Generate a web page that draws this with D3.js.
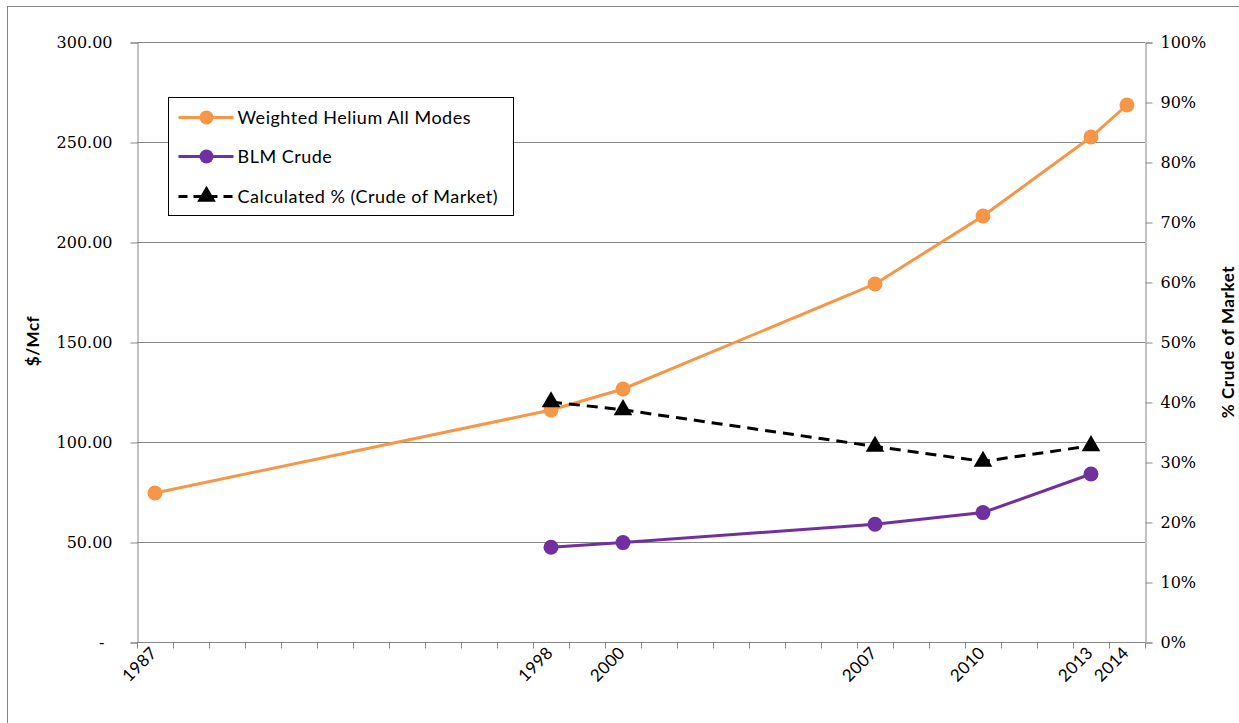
<!DOCTYPE HTML>
<html>
<head>
  <title>Helium price chart</title>
  <meta http-equiv="Content-Type" content="text/html; charset=UTF-8" />
  <script src="https://d3js.org/d3.v7.min.js"></script>
  <style>
    body { margin: 0; background: #fff; }
    svg { display: block; background-color: #fff; }
    .num { font-family: "DejaVu Serif", serif; font-size: 16px; fill: #000; }
    .lbl { font-family: Lato, "Open Sans", sans-serif; fill: #000; }
  </style>
</head>
<body>
<svg width="1239" height="723"></svg>
<script>
  // values
  var years = [1987, 1998, 2000, 2007, 2010, 2013, 2014];
  var heliumAll = [74.5, 116, 126.5, 179, 213, 252.5, 268.5];
  var blmYears = [1998, 2000, 2007, 2010, 2013];
  var blmCrude = [47.4, 49.7, 58.9, 64.7, 84];
  var crudePct = [40.0, 38.7, 32.6, 30.1, 32.7];
  var leftTicks = [0, 50, 100, 150, 200, 250, 300];
  var rightTicks = [0, 10, 20, 30, 40, 50, 60, 70, 80, 90, 100];
  var seriesNames = ["Weighted Helium All Modes", "BLM Crude", "Calculated % (Crude of Market)"];

  var orange = "#f79646", purple = "#7030a0", gray = "#868686";

  var svg = d3.select("svg");

  // chart frame (cut off on the right and bottom)
  svg.append("rect")
    .attr("x", 7.5).attr("y", 6.5)
    .attr("width", 1300).attr("height", 800)
    .attr("fill", "none").attr("stroke", gray);

  var x = d3.scaleLinear().domain([1986.5, 2014.5]).range([137, 1145]);
  var y = d3.scaleLinear().domain([0, 300]).range([642, 42]);
  var yPct = d3.scaleLinear().domain([0, 100]).range([642, 42]);

  // gridlines
  svg.append("g").selectAll("line")
    .data(leftTicks.filter(function(d) { return d > 0; }))
    .enter().append("line")
    .attr("x1", 137).attr("x2", 1145)
    .attr("y1", function(d) { return Math.round(y(d)) + 0.5; })
    .attr("y2", function(d) { return Math.round(y(d)) + 0.5; })
    .attr("stroke", gray);

  // left axis
  var left = svg.append("g").attr("transform", "translate(137.5,0.5)")
    .call(d3.axisLeft(y).tickValues(leftTicks).tickSize(7).tickPadding(18)
      .tickFormat(function(d) { return d === 0 ? "-" : d.toFixed(2); }));
  left.selectAll(".domain, line").attr("stroke", gray);
  left.selectAll("text").attr("class", "num").attr("fill", "#000");
  left.selectAll("text").filter(function(d) { return d === 0; }).attr("x", -33);

  // right axis
  var right = svg.append("g").attr("transform", "translate(1145.5,0.5)")
    .call(d3.axisRight(yPct).tickValues(rightTicks).tickSize(7).tickPadding(8)
      .tickFormat(function(d) { return d + "%"; }));
  right.selectAll(".domain, line").attr("stroke", gray);
  right.selectAll("text").attr("class", "num").attr("fill", "#000");

  // x axis: year boundaries as ticks, labels on the data years
  var bounds = d3.range(1986.5, 2015, 1);
  var bottom = svg.append("g").attr("transform", "translate(0,642.5)")
    .call(d3.axisBottom(x).tickValues(bounds).tickSize(6).tickFormat(""));
  bottom.selectAll(".domain, line").attr("stroke", gray);
  bottom.select(".domain").attr("d", "M137,0H1145");

  svg.append("g").selectAll("text")
    .data(years)
    .enter().append("text")
    .attr("class", "lbl")
    .attr("font-size", 17)
    .attr("letter-spacing", 0.3)
    .attr("text-anchor", "end")
    .attr("transform", function(d) { return "translate(" + (x(d) + 3) + ",654) rotate(-45)"; })
    .text(function(d) { return d; });

  // axis titles
  svg.append("text").attr("class", "lbl")
    .attr("font-size", 17).attr("font-weight", "bold")
    .attr("letter-spacing", 0.5)
    .attr("text-anchor", "middle")
    .attr("transform", "translate(39,341) rotate(-90)")
    .text("$/Mcf");
  svg.append("text").attr("class", "lbl")
    .attr("font-size", 17).attr("font-weight", "bold")
    .attr("letter-spacing", 0.6)
    .attr("text-anchor", "middle")
    .attr("transform", "translate(1234,342) rotate(-90)")
    .text("% Crude of Market");

  // series
  var helium = years.map(function(d, i) { return [d, heliumAll[i]]; });
  var blm = blmYears.map(function(d, i) { return [d, blmCrude[i]]; });
  var pct = blmYears.map(function(d, i) { return [d, crudePct[i]]; });

  var lineL = d3.line().x(function(d) { return x(d[0]); }).y(function(d) { return y(d[1]); });
  var lineR = d3.line().x(function(d) { return x(d[0]); }).y(function(d) { return yPct(d[1]); });

  svg.append("path").datum(helium).attr("d", lineL)
    .attr("fill", "none").attr("stroke", orange).attr("stroke-width", 3);
  svg.append("g").selectAll("circle").data(helium).enter().append("circle")
    .attr("cx", function(d) { return x(d[0]); })
    .attr("cy", function(d) { return y(d[1]); })
    .attr("r", 7.5).attr("fill", orange);

  svg.append("path").datum(blm).attr("d", lineL)
    .attr("fill", "none").attr("stroke", purple).attr("stroke-width", 3);
  svg.append("g").selectAll("circle").data(blm).enter().append("circle")
    .attr("cx", function(d) { return x(d[0]); })
    .attr("cy", function(d) { return y(d[1]); })
    .attr("r", 7.5).attr("fill", purple);

  var tri = d3.symbol().type(d3.symbolTriangle).size(150);
  svg.append("path").datum(pct).attr("d", lineR)
    .attr("fill", "none").attr("stroke", "#000").attr("stroke-width", 3)
    .attr("stroke-dasharray", "11,7");
  svg.append("g").selectAll("path").data(pct).enter().append("path")
    .attr("d", tri)
    .attr("transform", function(d) { return "translate(" + x(d[0]) + "," + yPct(d[1]) + ")"; })
    .attr("fill", "#000");

  // legend
  var lg = svg.append("g").attr("transform", "translate(168.5,97.5)");
  lg.append("rect").attr("width", 345).attr("height", 118)
    .attr("fill", "#fff").attr("stroke", "#000");
  var rows = lg.selectAll("g.row").data(seriesNames).enter().append("g")
    .attr("transform", function(d, i) { return "translate(0," + [20, 59, 99][i] + ")"; });
  rows.append("line")
    .attr("x1", 10).attr("x2", 65)
    .attr("stroke", function(d, i) { return [orange, purple, "#000"][i]; })
    .attr("stroke-width", 3)
    .attr("stroke-dasharray", function(d, i) { return i === 2 ? "9,6" : null; });
  rows.filter(function(d, i) { return i < 2; }).append("circle")
    .attr("cx", 38).attr("r", 7)
    .attr("fill", function(d, i) { return [orange, purple][i]; });
  rows.filter(function(d, i) { return i === 2; }).append("path")
    .attr("d", tri).attr("transform", "translate(38,0)").attr("fill", "#000");
  rows.append("text").attr("class", "lbl")
    .attr("x", 69).attr("dy", "0.35em")
    .attr("font-size", 18)
    .attr("letter-spacing", 0.5)
    .text(function(d) { return d; });
</script>
</body>
</html>
